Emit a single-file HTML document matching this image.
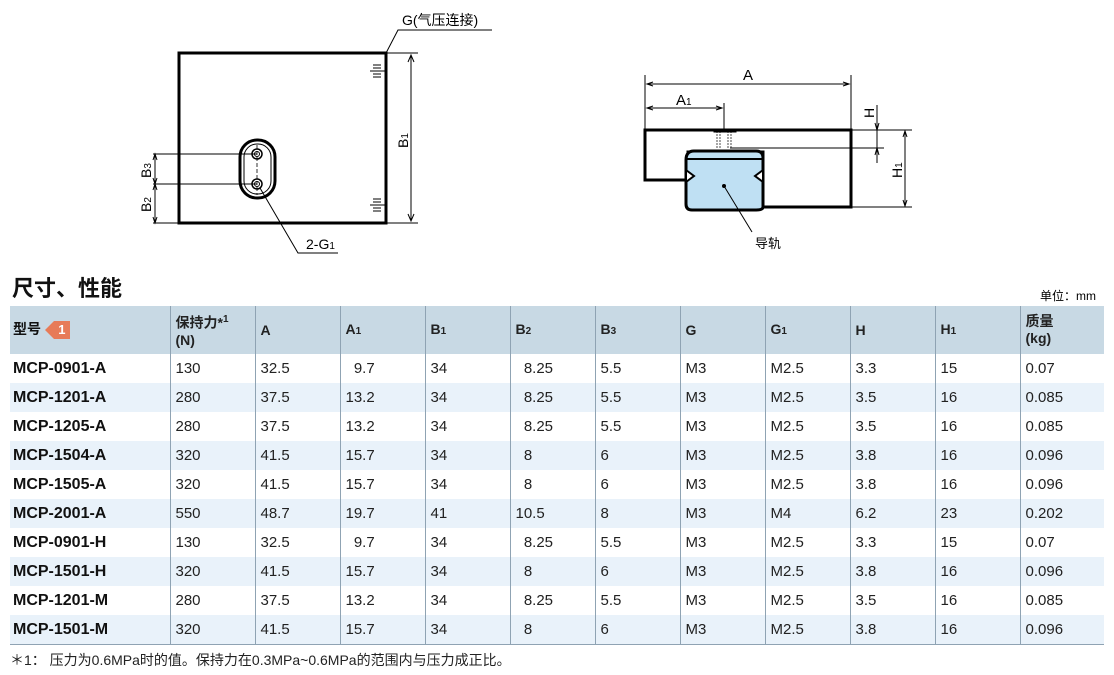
<!DOCTYPE html>
<html><head><meta charset="utf-8"><style>
body{margin:0;width:1114px;height:675px;background:#fff;position:relative;font-family:"Liberation Sans","Noto Sans CJK SC",sans-serif;overflow:hidden}
svg{position:absolute;left:0;top:0}
.t{position:absolute;left:10px;top:306px;border-collapse:collapse;width:1094px;table-layout:fixed}
.t td{height:29px;padding:0 0 0 5px;font-size:15px;color:#222;border-left:1px solid #8fa3b3;vertical-align:middle;line-height:17px}
.t td:first-child{border-left:none;font-weight:bold;font-size:16px;padding-left:3px;color:#111}
.t tr.h td{background:#c8d9e4;height:48px;font-weight:bold;font-size:14px}
.t tr.e td{background:#e9f2fa}
.t tr:last-child td{border-bottom:1px solid #8fa3b3}
sub{font-size:10px;vertical-align:0}
</style></head><body>
<svg width="1114" height="675" viewBox="0 0 1114 675">
<g fill="none" stroke="#000">
<rect x="179" y="53" width="207" height="170" stroke-width="3"/>
<line x1="386" y1="53" x2="418" y2="53" stroke-width="1"/>
<line x1="386" y1="223" x2="418" y2="223" stroke-width="1"/>
<line x1="411" y1="55" x2="411" y2="221" stroke-width="1"/>
<path d="M408 62 L411 55 L414 62 M408 214 L411 221 L414 214" stroke-width="1"/>
<path d="M370 71h16 M373 65h8 M373 68h8 M373 74h8 M373 77h8 M370 205h16 M373 199h8 M373 202h8 M373 208h8 M373 211h8" stroke-width="1"/>
<path d="M385 55 L398 30 H492" stroke-width="1"/>
<rect x="240" y="140" width="35" height="58" rx="17" stroke-width="3"/>
<rect x="244" y="144" width="27" height="50" rx="13" stroke-width="1"/>
<circle cx="257" cy="154" r="5" stroke-width="1.5"/><circle cx="257" cy="154" r="2.5"/>
<circle cx="257" cy="184" r="5" stroke-width="1.5"/><circle cx="257" cy="184" r="2.5"/>
<line x1="257" y1="145" x2="257" y2="195" stroke-dasharray="4 2" stroke-width="0.8"/>
<line x1="153" y1="154" x2="257" y2="154"/><line x1="153" y1="184" x2="257" y2="184"/>
<line x1="153" y1="223" x2="179" y2="223"/>
<line x1="155" y1="154" x2="155" y2="223"/>
<path d="M153 160l2-6 2 6 M153 178l2 6 2-6 M153 190l2-6 2 6 M153 217l2 6 2-6"/>
<path d="M260 188 L298 253 H338"/>
<path d="M645 130 H851 V207 H763 V152 H688 V180 H645 Z" stroke-width="3"/>
<line x1="645" y1="75" x2="645" y2="130"/><line x1="851" y1="75" x2="851" y2="130"/>
<line x1="647" y1="84" x2="849" y2="84"/><path d="M653 82l-6 2 6 2 M843 82l6 2-6 2"/>
<line x1="647" y1="108" x2="722" y2="108"/><path d="M653 106l-6 2 6 2 M716 106l6 2-6 2"/>
<line x1="724" y1="103" x2="724" y2="130"/>
<rect x="714" y="129" width="22" height="3" fill="#000"/>
<path d="M717 131v18 M720 131v18 M728 131v18 M731 131v18" stroke-width="0.7" stroke-dasharray="2 1"/>
<line x1="851" y1="130" x2="912" y2="130"/><line x1="851" y1="207" x2="912" y2="207"/>
<line x1="730" y1="148" x2="884" y2="148"/>
<line x1="877" y1="105" x2="877" y2="163"/><path d="M875 123l2 7 2-7 M875 155l2-7 2 7"/>
<line x1="905" y1="131" x2="905" y2="206"/><path d="M903 137l2-6 2 6 M903 200l2 6 2-6"/>
</g>
<path d="M686 160 Q686 151 694 151 H756 Q763 151 763 158 V207 Q763 210 756 210 H692 Q686 210 686 204 Z" fill="#bfe0f3" stroke="#000" stroke-width="3"/>
<line x1="686" y1="159" x2="763" y2="159" stroke="#000" stroke-width="2"/>
<path d="M686 170 l8 6 -8 6 Z M763 170 l-8 6 8 6 Z" fill="#fff" stroke="#000" stroke-width="2"/>
<circle cx="724" cy="186" r="2" fill="#000"/>
<line x1="724" y1="186" x2="752" y2="232" stroke="#000"/>
<g font-family="Liberation Sans,Noto Sans CJK SC,sans-serif" fill="#000">
<text x="402" y="25" font-size="14">G(气压连接)</text>
<text x="306" y="249" font-size="14">2-G<tspan font-size="10">1</tspan></text>
<text x="408" y="148" font-size="14" transform="rotate(-90 408 148)">B<tspan font-size="10">1</tspan></text>
<text x="151" y="178" font-size="14" transform="rotate(-90 151 178)">B<tspan font-size="10">3</tspan></text>
<text x="151" y="212" font-size="14" transform="rotate(-90 151 212)">B<tspan font-size="10">2</tspan></text>
<text x="743" y="80" font-size="15">A</text>
<text x="676" y="105" font-size="15">A<tspan font-size="10">1</tspan></text>
<text x="874" y="118" font-size="14" transform="rotate(-90 874 118)">H</text>
<text x="902" y="178" font-size="14" transform="rotate(-90 902 178)">H<tspan font-size="10">1</tspan></text>
<text x="755" y="248" font-size="13">导轨</text>
<text x="12" y="296" font-size="22" font-weight="bold" fill="#111">尺寸、性能</text>
<text x="1040" y="300" font-size="12">单位：mm</text>
<text x="10" y="665" font-size="14" fill="#222">＊1：  压力为0.6MPa时的值。保持力在0.3MPa~0.6MPa的范围内与压力成正比。</text>
</g>
</svg>
<table class="t">
<colgroup><col style="width:160px"><col style="width:85px"><col style="width:85px"><col style="width:85px"><col style="width:85px"><col style="width:85px"><col style="width:85px"><col style="width:85px"><col style="width:85px"><col style="width:85px"><col style="width:85px"><col></colgroup>
<tr class="h"><td style="font-size:14px">型号 <span style="display:inline-block;vertical-align:middle;width:0;height:0;border-top:9px solid transparent;border-bottom:9px solid transparent;border-right:9px solid #e77b58"></span><span style="display:inline-block;vertical-align:middle;background:#e77b58;color:#fff;width:16px;height:18px;text-align:center;font-size:13px;line-height:18px">1</span></td><td>保持力*<sup style="font-size:10px">1</sup><br>(N)</td><td>A</td><td>A<sub>1</sub></td><td>B<sub>1</sub></td><td>B<sub>2</sub></td><td>B<sub>3</sub></td><td>G</td><td>G<sub>1</sub></td><td>H</td><td>H<sub>1</sub></td><td>质量<br>(kg)</td></tr>
<tr><td>MCP-0901-A</td><td>130</td><td>32.5</td><td>&nbsp;&nbsp;9.7</td><td>34</td><td>&nbsp;&nbsp;8.25</td><td>5.5</td><td>M3</td><td>M2.5</td><td>3.3</td><td>15</td><td>0.07</td></tr>
<tr class="e"><td>MCP-1201-A</td><td>280</td><td>37.5</td><td>13.2</td><td>34</td><td>&nbsp;&nbsp;8.25</td><td>5.5</td><td>M3</td><td>M2.5</td><td>3.5</td><td>16</td><td>0.085</td></tr>
<tr><td>MCP-1205-A</td><td>280</td><td>37.5</td><td>13.2</td><td>34</td><td>&nbsp;&nbsp;8.25</td><td>5.5</td><td>M3</td><td>M2.5</td><td>3.5</td><td>16</td><td>0.085</td></tr>
<tr class="e"><td>MCP-1504-A</td><td>320</td><td>41.5</td><td>15.7</td><td>34</td><td>&nbsp;&nbsp;8</td><td>6</td><td>M3</td><td>M2.5</td><td>3.8</td><td>16</td><td>0.096</td></tr>
<tr><td>MCP-1505-A</td><td>320</td><td>41.5</td><td>15.7</td><td>34</td><td>&nbsp;&nbsp;8</td><td>6</td><td>M3</td><td>M2.5</td><td>3.8</td><td>16</td><td>0.096</td></tr>
<tr class="e"><td>MCP-2001-A</td><td>550</td><td>48.7</td><td>19.7</td><td>41</td><td>10.5</td><td>8</td><td>M3</td><td>M4</td><td>6.2</td><td>23</td><td>0.202</td></tr>
<tr><td>MCP-0901-H</td><td>130</td><td>32.5</td><td>&nbsp;&nbsp;9.7</td><td>34</td><td>&nbsp;&nbsp;8.25</td><td>5.5</td><td>M3</td><td>M2.5</td><td>3.3</td><td>15</td><td>0.07</td></tr>
<tr class="e"><td>MCP-1501-H</td><td>320</td><td>41.5</td><td>15.7</td><td>34</td><td>&nbsp;&nbsp;8</td><td>6</td><td>M3</td><td>M2.5</td><td>3.8</td><td>16</td><td>0.096</td></tr>
<tr><td>MCP-1201-M</td><td>280</td><td>37.5</td><td>13.2</td><td>34</td><td>&nbsp;&nbsp;8.25</td><td>5.5</td><td>M3</td><td>M2.5</td><td>3.5</td><td>16</td><td>0.085</td></tr>
<tr class="e"><td>MCP-1501-M</td><td>320</td><td>41.5</td><td>15.7</td><td>34</td><td>&nbsp;&nbsp;8</td><td>6</td><td>M3</td><td>M2.5</td><td>3.8</td><td>16</td><td>0.096</td></tr>
</table>
</body></html>
